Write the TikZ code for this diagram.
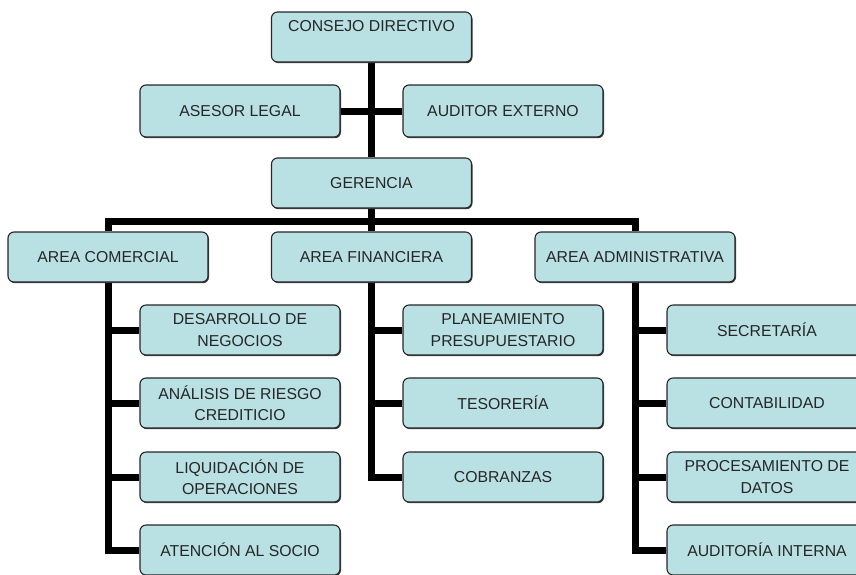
\documentclass[tikz,border=0pt]{standalone}
\usepackage{fontspec}
\setmainfont{Liberation Sans}
\usepackage{tikz}
\usetikzlibrary{shadows, backgrounds}
\definecolor{boxfill}{RGB}{185,224,227}
\tikzstyle{block} = [draw=black!85, line width=1.1pt, fill=boxfill, rectangle,
    rounded corners=6pt, minimum width=200pt, minimum height=50pt,
    align=center, font=\fontsize{15.8}{21.5}\selectfont, text=black!85,
    general shadow={shadow xshift=1pt, shadow yshift=-1.2pt, fill=black!75}]
\tikzstyle{link} = [line width=7pt, black]

\begin{document}
\begin{tikzpicture}[x=1pt, y=-1pt]
        \useasboundingbox (0, 0) rectangle (856, 574);
        \clip (0, 0) rectangle (856, 574);

        \node[block, name=consejo] at (371.5, 37) {CONSEJO DIRECTIVO\\ \phantom{X}};
        \node[block, name=asesor, minimum height=52pt] at (240, 111) {ASESOR LEGAL};
        \node[block, name=auditor, minimum height=52pt] at (503, 111) {AUDITOR EXTERNO};
        \node[block, name=gerencia] at (371.5, 183) {GERENCIA};

        \node[block, name=comercial] at (108, 257) {AREA COMERCIAL};
        \node[block, name=financiera] at (371.5, 257) {AREA FINANCIERA};
        \node[block, name=administrativa] at (635, 257) {AREA ADMINISTRATIVA};

        \node[block, name=desarrollo] at (240, 330) {DESARROLLO DE\\NEGOCIOS};
        \node[block, name=riesgo] at (240, 403) {ANÁLISIS DE RIESGO\\CREDITICIO};
        \node[block, name=liquidacion] at (240, 477) {LIQUIDACIÓN DE\\OPERACIONES};
        \node[block, name=atencion] at (240, 550) {ATENCIÓN AL SOCIO};

        \node[block, name=planeamiento] at (503, 330) {PLANEAMIENTO\\PRESUPUESTARIO};
        \node[block, name=tesoreria] at (503, 403) {TESORERÍA};
        \node[block, name=cobranzas] at (503, 477) {COBRANZAS};

        \node[block, name=secretaria] at (767, 330) {SECRETARÍA};
        \node[block, name=contabilidad] at (767, 403) {CONTABILIDAD};
        \node[block, name=procesamiento] at (767, 477) {PROCESAMIENTO DE\\DATOS};
        \node[block, name=interna] at (767, 550) {AUDITORÍA INTERNA};

        \coordinate (bus) at (371.5, 221);

        \begin{scope}[on background layer]
        \draw[link] (consejo.south) -- (gerencia.north);
        \draw[link] (asesor.east) -- (auditor.west);
        \draw[link] (gerencia.south) -- (financiera.north);
        \draw[link] (comercial.north) |- (bus) -| (administrativa.north);

        \draw[link] (comercial.south) |- (atencion.west);
        \draw[link] (comercial.south |- desarrollo.west) -- (desarrollo.west);
        \draw[link] (comercial.south |- riesgo.west) -- (riesgo.west);
        \draw[link] (comercial.south |- liquidacion.west) -- (liquidacion.west);

        \draw[link] (financiera.south) |- (cobranzas.west);
        \draw[link] (financiera.south |- planeamiento.west) -- (planeamiento.west);
        \draw[link] (financiera.south |- tesoreria.west) -- (tesoreria.west);

        \draw[link] (administrativa.south) |- (interna.west);
        \draw[link] (administrativa.south |- secretaria.west) -- (secretaria.west);
        \draw[link] (administrativa.south |- contabilidad.west) -- (contabilidad.west);
        \draw[link] (administrativa.south |- procesamiento.west) -- (procesamiento.west);
        \end{scope}
    \end{tikzpicture}
\end{document}
